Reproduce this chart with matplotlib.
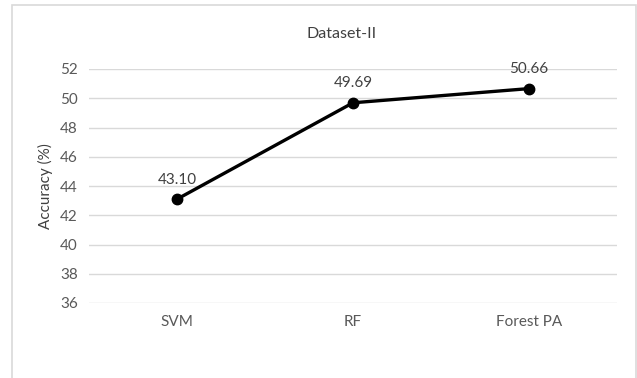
import matplotlib.pyplot as plt
from matplotlib.patches import Rectangle

# Данные графика
models = ['SVM', 'RF', 'Forest PA']
accuracy = [43.10, 49.69, 50.66]
y_ticks = [36, 38, 40, 42, 44, 46, 48, 50, 52]

plt.rcParams['font.family'] = ['Lato', 'DejaVu Sans']

fig = plt.figure(figsize=(6.37, 3.78), dpi=100)
ax = fig.add_axes([89 / 637, 1 - 303 / 378, 528 / 637, 234 / 378])

x = list(range(len(models)))
ax.plot(x, accuracy, color='black', linewidth=2.4, marker='o', markersize=7.5, zorder=3)

for xi, v in zip(x, accuracy):
    ax.annotate(f'{v:.2f}', (xi, v), xytext=(0, 14), textcoords='offset points',
                ha='center', va='center', fontsize=11, color='#404040')

ax.set_xlim(-0.5, len(models) - 0.5)
ax.set_ylim(36, 52)
ax.set_yticks(y_ticks)
ax.set_xticks(x)
ax.set_xticklabels(models)
ax.tick_params(axis='both', length=0, labelsize=11, labelcolor='#595959')
ax.tick_params(axis='y', pad=8)
ax.tick_params(axis='x', pad=9)
ax.grid(axis='y', color='#d9d9d9', linewidth=1)
ax.set_axisbelow(True)
for s in ax.spines.values():
    s.set_visible(False)

ax.set_ylabel('Accuracy (%)', fontsize=11, color='#404040', labelpad=5)
fig.text(342 / 637, 1 - 34 / 378, 'Dataset-II', ha='center', va='center',
         fontsize=11.5, color='#404040')

# Рамка области диаграммы
fig.patches.append(Rectangle((12 / 637, -0.02), 624 / 637, 1 - 5 / 378 + 0.02,
                             transform=fig.transFigure, fill=False,
                             edgecolor='#d9d9d9', linewidth=1.2))

fig.savefig('out.png', dpi=100)
